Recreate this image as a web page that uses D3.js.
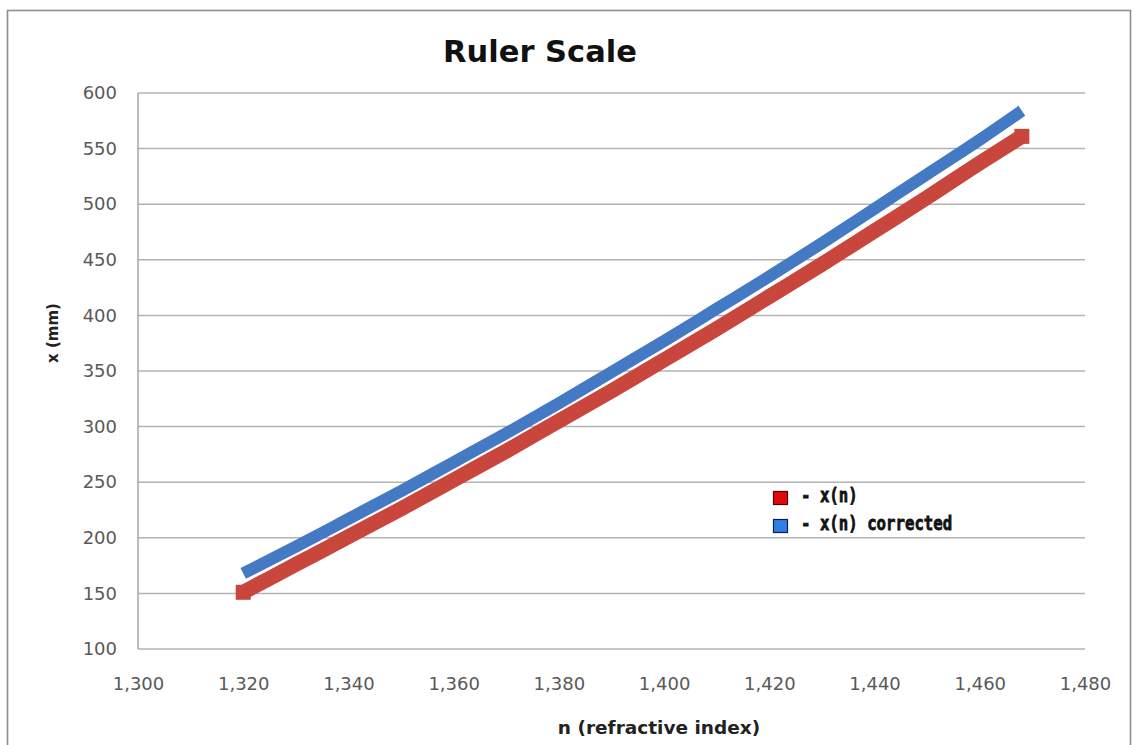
<!DOCTYPE html>
<html>
<head>
<meta charset="utf-8">
<script src="https://cdn.jsdelivr.net/npm/d3@7"></script>
<style>
  html, body { margin: 0; padding: 0; background: #fff; }
  svg { display: block; }
</style>
</head>
<body>
<svg id="chart" width="1136" height="745"></svg>
<script>
// Refractive index samples and ruler positions (mm)
const nValues      = [1.320, 1.330, 1.340, 1.350, 1.360, 1.370, 1.380, 1.390, 1.400, 1.410, 1.420, 1.430, 1.440, 1.450, 1.460, 1.468];
const xRaw         = [151, 176, 201, 226, 252, 278, 305, 332, 360, 388, 417, 446, 476, 506, 537, 561];
const xCorrected   = [168, 192, 217, 242, 268, 294, 321, 349, 377, 406, 435, 465, 496, 527, 558, 584];

const xTickValues  = [1.30, 1.32, 1.34, 1.36, 1.38, 1.40, 1.42, 1.44, 1.46, 1.48];
const xTickLabels  = ["1,300", "1,320", "1,340", "1,360", "1,380", "1,400", "1,420", "1,440", "1,460", "1,480"];
const yTickValues  = [100, 150, 200, 250, 300, 350, 400, 450, 500, 550, 600];

const seriesNames  = ["- x(n)", "- x(n) corrected"];

const svg = d3.select("#chart");
const W = 1136, H = 745;
const plot = { left: 138, right: 1085, top: 93, bottom: 649 };

const x = d3.scaleLinear().domain([1.30, 1.48]).range([plot.left, plot.right]);
const y = d3.scaleLinear().domain([100, 600]).range([plot.bottom, plot.top]);

// chart frame
svg.append("rect")
  .attr("x", 7.5).attr("y", 10.5)
  .attr("width", 1123).attr("height", H + 20)
  .attr("fill", "#fff")
  .attr("stroke", "#8e8e8e").attr("stroke-width", 1.6);

// horizontal gridlines
svg.append("g")
  .selectAll("line")
  .data(yTickValues)
  .join("line")
  .attr("x1", plot.left).attr("x2", plot.right)
  .attr("y1", d => y(d)).attr("y2", d => y(d))
  .attr("stroke", "#b3b3b3").attr("stroke-width", 1.5);

// left axis line
svg.append("line")
  .attr("x1", plot.left).attr("x2", plot.left)
  .attr("y1", plot.top).attr("y2", plot.bottom)
  .attr("stroke", "#a6a6a6").attr("stroke-width", 1.5);

// y axis labels
const yAxis = d3.axisLeft(y).tickValues(yTickValues).tickSize(0).tickPadding(21);
svg.append("g")
  .attr("transform", `translate(${plot.left},0)`)
  .call(yAxis)
  .call(g => g.select(".domain").remove())
  .selectAll("text")
  .attr("font-family", "DejaVu Sans")
  .attr("font-size", 18)
  .attr("fill", "#595959");

// x axis labels
const xAxis = d3.axisBottom(x).tickValues(xTickValues).tickSize(0).tickPadding(0)
  .tickFormat((d, i) => xTickLabels[i]);
svg.append("g")
  .attr("transform", `translate(0,${plot.bottom})`)
  .call(xAxis)
  .call(g => g.select(".domain").remove())
  .selectAll("text")
  .attr("dy", null)
  .attr("y", 41)
  .attr("font-family", "DejaVu Sans")
  .attr("font-size", 18)
  .attr("fill", "#595959");

// series lines
const line = d3.line()
  .x((d, i) => x(nValues[i]))
  .y(d => y(d))
  .curve(d3.curveMonotoneX);

const redColor = "#c9463d";
const blueColor = "#4479c4";

svg.append("path")
  .datum(xRaw)
  .attr("d", line)
  .attr("fill", "none")
  .attr("stroke", redColor)
  .attr("stroke-width", 15)
  .attr("stroke-linejoin", "round");

// square end markers on the raw series
const ends = [0, xRaw.length - 1];
svg.append("g")
  .selectAll("rect")
  .data(ends)
  .join("rect")
  .attr("x", i => x(nValues[i]) - 7.5)
  .attr("y", i => y(xRaw[i]) - 7.5)
  .attr("width", 15).attr("height", 15)
  .attr("fill", redColor);

svg.append("path")
  .datum(xCorrected)
  .attr("d", line)
  .attr("fill", "none")
  .attr("stroke", blueColor)
  .attr("stroke-width", 12)
  .attr("stroke-linejoin", "round")
  .attr("stroke-linecap", "butt");

// legend
const legend = svg.append("g");
const legendColors = ["#e00a0a", "#2f80e6"];
const legendStroke = ["#5a0000", "#0a1f4a"];
seriesNames.forEach((name, i) => {
  const gy = 491 + i * 28;
  legend.append("rect")
    .attr("x", 773.5).attr("y", gy + 0.5)
    .attr("width", 14).attr("height", 13)
    .attr("fill", legendColors[i])
    .attr("stroke", legendStroke[i]).attr("stroke-width", 1.2);
  legend.append("text")
    .attr("transform", `translate(801,${gy + 11}) scale(1,1.25)`)
    .attr("font-family", "DejaVu Sans Mono")
    .attr("font-weight", "bold")
    .attr("font-size", 15.7)
    .attr("fill", "#111")
    .attr("stroke", "#111")
    .attr("stroke-width", 0.6)
    .attr("xml:space", "preserve")
    .text(name);
});

// title
svg.append("text")
  .attr("x", 540).attr("y", 62)
  .attr("text-anchor", "middle")
  .attr("font-family", "DejaVu Sans")
  .attr("font-weight", "bold")
  .attr("font-size", 30.5)
  .attr("fill", "#111")
  .text("Ruler Scale");

// axis titles
svg.append("text")
  .attr("transform", "translate(53,333) rotate(-90)")
  .attr("text-anchor", "middle")
  .attr("dominant-baseline", "central")
  .attr("font-family", "DejaVu Sans")
  .attr("font-weight", "bold")
  .attr("font-size", 15)
  .attr("fill", "#222")
  .text("x (mm)");

svg.append("text")
  .attr("x", 659).attr("y", 734)
  .attr("text-anchor", "middle")
  .attr("font-family", "DejaVu Sans")
  .attr("font-weight", "bold")
  .attr("font-size", 18.5)
  .attr("fill", "#222")
  .text("n (refractive index)");
</script>
</body>
</html>
